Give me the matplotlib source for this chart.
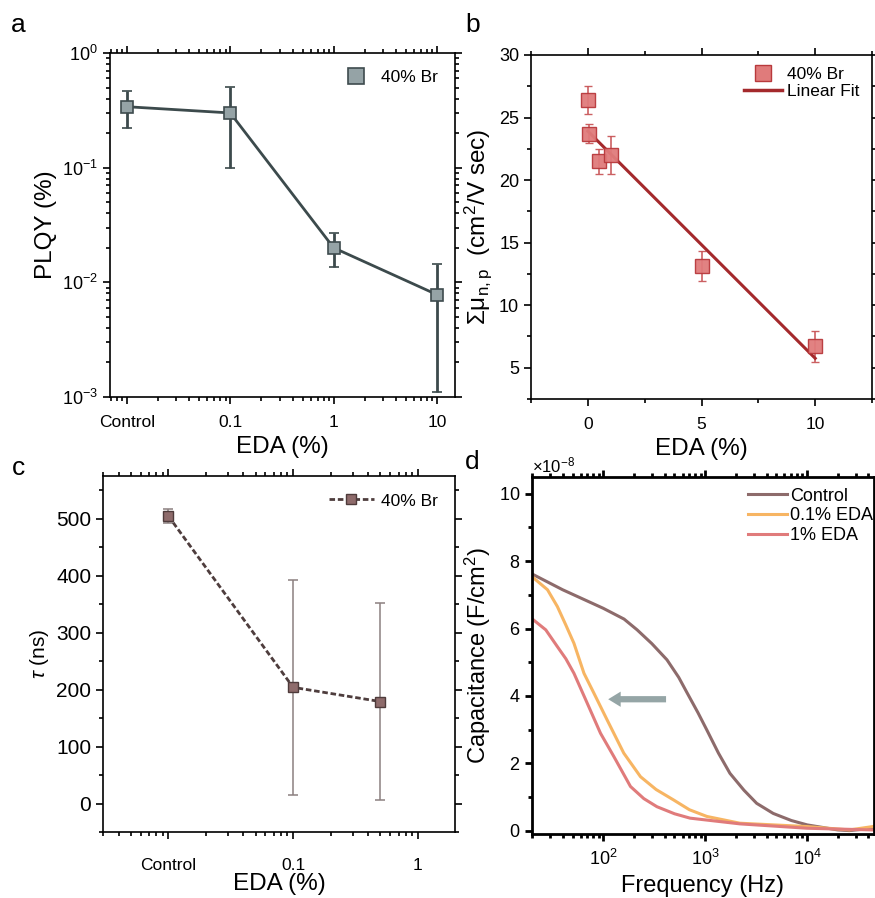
import numpy as np
import matplotlib
matplotlib.use("Agg")
import matplotlib.pyplot as plt
from matplotlib.lines import Line2D
from matplotlib.ticker import (MultipleLocator, LogLocator, NullFormatter,
                               FixedLocator, FixedFormatter, ScalarFormatter)

plt.rcParams['font.family'] = ['Liberation Sans', 'DejaVu Sans']
plt.rcParams['mathtext.fontset'] = 'custom'
plt.rcParams['mathtext.rm'] = 'Liberation Sans'
plt.rcParams['mathtext.it'] = 'Liberation Sans:italic'
plt.rcParams['mathtext.bf'] = 'Liberation Sans:bold'

# ---- panel a : PLQY vs EDA ----
plqy_x = [0.01, 0.1, 1, 10]
plqy_labels = ['Control', '0.1', '1', '10']
plqy = [0.34, 0.30, 0.020, 0.0078]
plqy_lo = [0.22, 0.10, 0.0135, 0.0011]
plqy_hi = [0.47, 0.51, 0.027, 0.0145]

# ---- panel b : mobility vs EDA ----
mob_x = [0, 0.05, 0.5, 1, 5, 10]
mob = [26.4, 23.7, 21.5, 22.0, 13.1, 6.7]
mob_err = [1.1, 0.75, 1.0, 1.5, 1.2, 1.25]

# ---- panel c : lifetime ----
tau_x = [0.01, 0.1, 0.5]
tau_labels = ['Control', '0.1', '1']
tau_ticks = [0.01, 0.1, 1]
tau = [505, 204, 179]
tau_err = [12, 189, 173]

# ---- panel d : capacitance spectra (x1e-8 F/cm2) ----
f_ctrl = [20, 40, 100, 160, 215, 300, 422, 550, 662, 850, 1037, 1350, 1750, 2400,
          3200, 4650, 7000, 10000, 20000, 26000, 44000]
c_ctrl = [7.62, 7.15, 6.6, 6.28, 5.96, 5.55, 5.07, 4.55, 4.1, 3.5, 2.99, 2.3, 1.70, 1.2,
          0.81, 0.51, 0.3, 0.17, 0.02, 0.0, 0.07]
f_01 = [20, 28.4, 35.5, 43, 51.6, 64.7, 81, 109, 159, 232, 330, 490, 700, 1040, 2190,
        10000, 26000, 44000]
c_01 = [7.54, 7.15, 6.65, 6.1, 5.56, 4.67, 4.08, 3.29, 2.30, 1.60, 1.22, 0.91, 0.62,
        0.42, 0.22, 0.12, 0.02, 0.12]
f_1 = [20, 27.3, 35.5, 43, 51.6, 69.7, 94, 127, 185, 250, 336, 500, 710, 2190, 10000, 44000]
c_1 = [6.29, 5.96, 5.46, 5.1, 4.67, 3.78, 2.89, 2.20, 1.31, 0.95, 0.71, 0.5, 0.37, 0.20,
       0.07, 0.02]

fig = plt.figure(figsize=(8.75, 8.98), dpi=100)

def style(ax, lw=1.2):
    for s in ax.spines.values():
        s.set_linewidth(lw)
    ax.tick_params(which='both', direction='out', top=True, right=True, width=lw)
    ax.tick_params(which='major', length=5)
    ax.tick_params(which='minor', length=3)

# panel a
ax = fig.add_axes([0.1257, 0.5579, 0.3943, 0.3831])
yerr = [np.array(plqy) - np.array(plqy_lo), np.array(plqy_hi) - np.array(plqy)]
ax.errorbar(plqy_x, plqy, yerr=yerr, color='#3c4a4c', lw=2, elinewidth=2,
            capsize=3.6, capthick=2, marker='s', ms=9, mfc='#95a3a6', mec='#3e4b4e', mew=1.2)
ax.set_xscale('log')
ax.set_yscale('log')
ax.set_xlim(0.00687, 14.9)
ax.set_ylim(1e-3, 1)
ax.xaxis.set_major_locator(FixedLocator(plqy_x))
ax.xaxis.set_major_formatter(FixedFormatter(plqy_labels))
ax.xaxis.set_minor_locator(LogLocator(base=10, subs=np.arange(2, 10)))
ax.xaxis.set_minor_formatter(NullFormatter())
ax.yaxis.set_minor_locator(LogLocator(base=10, subs=np.arange(2, 10)))
ax.yaxis.set_minor_formatter(NullFormatter())
style(ax)
ax.tick_params(axis='x', labelsize=12.5, pad=8)
ax.tick_params(axis='y', labelsize=13)
ax.set_xlabel('EDA (%)', fontsize=17.5)
ax.set_ylabel('PLQY (%)', fontsize=17.5)
h = Line2D([], [], ls='none', marker='s', ms=11, mfc='#95a3a6', mec='#3e4b4e', mew=1.2)
ax.legend([h], ['40% Br'], loc='upper right', frameon=False, fontsize=12.5,
          handletextpad=0.4, borderaxespad=0.6)
fig.text(0.021, 0.972, 'a', fontsize=19, ha='center', va='center')

# panel b
ax = fig.add_axes([0.6069, 0.5557, 0.3897, 0.3831])
ax.errorbar(mob_x, mob, yerr=mob_err, ls='none', marker='s', ms=9.5, mfc='#e07b7b',
            mec='#b8393c', mew=1.0, ecolor='#c9575a', elinewidth=1.2, capsize=3, capthick=1.2,
            alpha=0.95)
k, b0 = np.polyfit(mob_x, mob, 1)
xf = np.array([0, 10])
ax.plot(xf, k * xf + b0, color='#a4292c', lw=2.2)
ax.set_xlim(-2.5, 12.5)
ax.set_ylim(2.5, 30)
ax.xaxis.set_major_locator(MultipleLocator(5))
ax.xaxis.set_minor_locator(MultipleLocator(2.5))
ax.yaxis.set_major_locator(MultipleLocator(5))
ax.yaxis.set_minor_locator(MultipleLocator(2.5))
style(ax)
ax.tick_params(axis='x', labelsize=12.5, pad=8)
ax.tick_params(axis='y', labelsize=13)
ax.set_xlabel('EDA (%)', fontsize=17.5)
ax.set_ylabel(r'Σμ$_{\mathregular{n,p}}$  (cm$^2$/V sec)', fontsize=17.5)
h1 = Line2D([], [], ls='none', marker='s', ms=11, mfc='#e07b7b', mec='#b8393c', mew=1.0)
h2 = Line2D([], [], color='#a4292c', lw=2.5)
ax.legend([h1, h2], ['40% Br', 'Linear Fit'], loc='upper right', frameon=False,
          fontsize=12.5, handletextpad=0.3, handlelength=2.2, labelspacing=0.1,
          borderaxespad=0.3)
fig.text(0.540, 0.972, 'b', fontsize=19, ha='center', va='center')

# panel c
ax = fig.add_axes([0.1177, 0.0735, 0.4023, 0.3964])
ax.errorbar(tau_x, tau, yerr=tau_err, ls='none', ecolor='#8c8080', elinewidth=1.1,
            capsize=3.6, capthick=1.1)
ax.plot(tau_x, tau, color='#4e3d3d', lw=2, ls=(0, (2, 1)), marker='s', ms=7.5,
        mfc='#8e6b6b', mec='#4e3b3b', mew=1.0, label='40% Br')
ax.set_xscale('log')
ax.set_xlim(0.003, 1.98)
ax.set_ylim(-50, 575)
ax.xaxis.set_major_locator(FixedLocator(tau_ticks))
ax.xaxis.set_major_formatter(FixedFormatter(tau_labels))
ax.xaxis.set_minor_locator(LogLocator(base=10, subs=np.arange(2, 10)))
ax.xaxis.set_minor_formatter(NullFormatter())
ax.yaxis.set_major_locator(MultipleLocator(100))
ax.yaxis.set_minor_locator(MultipleLocator(50))
style(ax)
ax.tick_params(axis='x', labelsize=12.5, pad=14)
ax.tick_params(axis='y', labelsize=15)
ax.set_xlabel('EDA (%)', fontsize=17.5, labelpad=0)
ax.set_ylabel(r'$\tau$ (ns)', fontsize=15)
ax.legend(loc='upper right', frameon=False, fontsize=12.5, handlelength=2.6,
          handletextpad=0.4, borderaxespad=0.6)
fig.text(0.021, 0.479, 'c', fontsize=19, ha='center', va='center')

# panel d
ax = fig.add_axes([0.608, 0.0713, 0.3905, 0.3976])
ax.plot(f_ctrl, np.array(c_ctrl) * 1e-8, color='#8d6b6b', lw=2.2, label='Control')
ax.plot(f_01, np.array(c_01) * 1e-8, color='#f7b563', lw=2.2, label='0.1% EDA')
ax.plot(f_1, np.array(c_1) * 1e-8, color='#e07b7b', lw=2.2, label='1% EDA')
ax.annotate('', xy=(105, 3.9e-8), xytext=(440, 3.9e-8),
            arrowprops=dict(arrowstyle='simple,head_length=0.9,head_width=1.1,tail_width=0.45',
                            color='#95a5a6', lw=0))
ax.set_xscale('log')
ax.set_xlim(20, 45000)
ax.set_ylim(-0.1e-8, 10.5e-8)
ax.yaxis.set_major_locator(MultipleLocator(2e-8))
ax.yaxis.set_minor_locator(MultipleLocator(1e-8))
fmt = ScalarFormatter(useMathText=True)
fmt.set_powerlimits((-8, -8))
ax.yaxis.set_major_formatter(fmt)
ax.yaxis.get_offset_text().set_fontsize(12)
ax.xaxis.set_minor_locator(LogLocator(base=10, subs=np.arange(2, 10)))
ax.xaxis.set_minor_formatter(NullFormatter())
style(ax, lw=2)
ax.tick_params(axis='x', labelsize=13, pad=6)
ax.tick_params(axis='y', labelsize=13)
ax.set_xlabel('Frequency (Hz)', fontsize=17)
ax.set_ylabel('Capacitance (F/cm$^2$)', fontsize=17)
ax.legend(loc='upper right', bbox_to_anchor=(1.03, 1.0), frameon=False, fontsize=13,
          handlelength=2.2, handletextpad=0.15, labelspacing=0.15, borderaxespad=0.2)
fig.text(0.540, 0.486, 'd', fontsize=19, ha='center', va='center')

fig.savefig('out.png', dpi=100)
